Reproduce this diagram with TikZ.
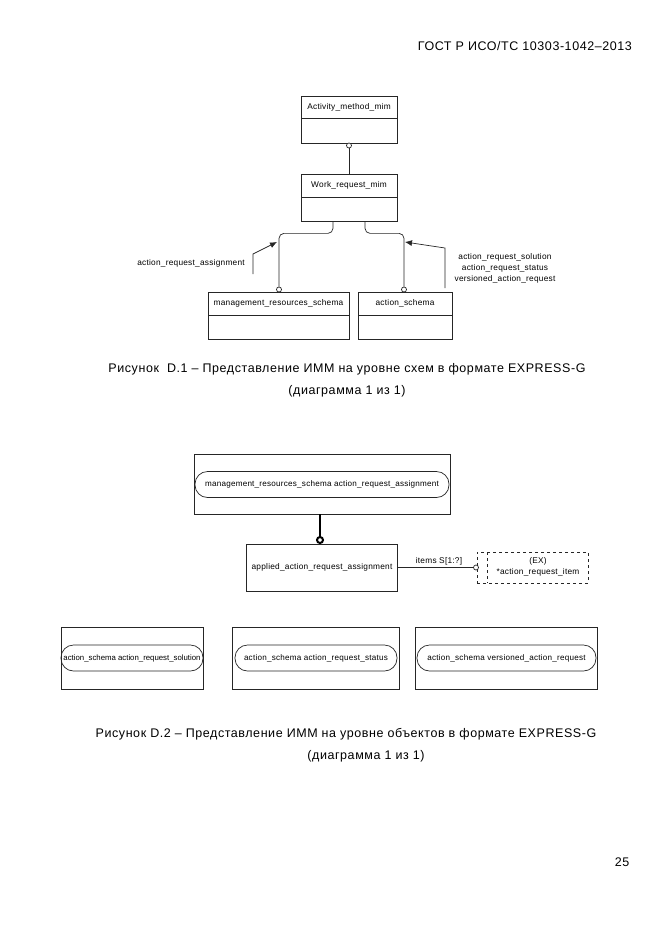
\documentclass[tikz,border=0pt]{standalone}
\usepackage{fontspec}
\setmainfont{Liberation Sans}
\newfontfamily\capfont[LetterSpace=4.5]{Liberation Sans}
\newfontfamily\dgfont[LetterSpace=3]{Liberation Sans}
\usetikzlibrary{arrows.meta}
\begin{document}
\begin{tikzpicture}[x=1pt,y=-1pt,
  ln/.style={line width=0.7pt, draw=black!85},
  box/.style={draw=black!85, line width=0.7pt, rectangle, inner sep=0pt},
  pill/.style={draw=black!85, line width=0.7pt, rectangle, rounded corners=12.5pt, inner xsep=0pt, inner ysep=0pt, minimum height=26pt, font=\dgfont\fontsize{8.1}{10}\selectfont},
  lbl/.style={inner sep=0pt, font=\dgfont\fontsize{8.3}{10}\selectfont},
  ocirc/.style={draw=black!85, line width=0.7pt, circle, fill=white, minimum size=5pt, inner sep=0pt},
  captxt/.style={inner sep=0pt, font=\capfont\fontsize{12.5}{15}\selectfont},
  arr/.style={ln, -{Latex[length=7pt,width=6pt]}}
]
\useasboundingbox (0,0) rectangle (661,935);

% header and page number
\node[captxt, anchor=east] (hdr) at (632,46) {ГОСТ Р ИСО/ТС 10303-1042–2013};
\node[captxt] (pg) at (622,862) {25};

% ---------- Diagram D.1 ----------
\node[box, minimum width=96pt, minimum height=47pt] (am) at (349,119.5) {};
\node[lbl] (amt) at (349,107) {Activity\_method\_mim};
\draw[ln] (301,118) -- (397,118);

\node[box, minimum width=96pt, minimum height=47pt] (wr) at (349,197.5) {};
\node[lbl] (wrt) at (349,185.5) {Work\_request\_mim};
\draw[ln] (301,197.5) -- (397,197.5);

\node[ocirc] (c1) at (349,145.5) {};
\draw[ln] (c1) -- (wr.north);

\node[box, minimum width=141pt, minimum height=47pt] (mrs) at (278.5,315.5) {};
\node[lbl] (mrst) at (278.5,303.5) {management\_resources\_schema};
\draw[ln] (208,315.5) -- (349,315.5);

\node[box, minimum width=94pt, minimum height=47pt] (as) at (405,315.5) {};
\node[lbl] (ast) at (405,303.5) {action\_schema};
\draw[ln] (358,315.5) -- (452,315.5);

\node[ocirc] (c2) at (279,289.5) {};
\node[ocirc] (c3) at (404,289.5) {};
\draw[ln] (c2) -- (mrs.north -| c2);
\draw[ln] (c3) -- (as.north -| c3);

\draw[ln, rounded corners=5pt] ([xshift=-16pt]wr.south) -- ++(0,12) -| (c2.north);
\draw[ln, rounded corners=5pt] ([xshift=16pt]wr.south) -- ++(0,12) -| (c3.north);

\coordinate (a1s) at (253,274);
\coordinate (a1e) at (277,242);
\draw[arr] (a1s) -- (253,254) -- (a1e);
\node[lbl] (a1l) at (191,263.5) {action\_request\_assignment};

\coordinate (a2s) at (445,288);
\coordinate (a2e) at (405,242);
\draw[arr] (a2s) -- (445,248) -- (a2e);
\node[lbl] (a2l1) at (505,257) {action\_request\_solution};
\node[lbl] (a2l2) at (505,268) {action\_request\_status};
\node[lbl] (a2l3) at (505,279) {versioned\_action\_request};

\node[captxt] (cap1) at (347,369) {Рисунок\ \ D.1 – Представление ИММ на уровне схем в формате EXPRESS-G};
\node[captxt] (cap1b) at (347,391) {(диаграмма 1 из 1)};

% ---------- Diagram D.2 ----------
\node[box, minimum width=256pt, minimum height=60pt] (o1) at (322,484) {};
\node[pill, minimum width=254pt] (p1) at (322,484.5) {management\_resources\_schema action\_request\_assignment};

\node[box, minimum width=151pt, minimum height=47pt] (aa) at (321.5,567.5) {};
\node[lbl] (aat) at (322,567) {applied\_action\_request\_assignment};

\node[draw=black, line width=2pt, circle, fill=white, minimum size=6pt, inner sep=0pt] (c5) at (320,540) {};
\draw[black, line width=2.4pt] (o1.south -| c5) -- (c5.north);

\node[ocirc] (c6) at (476,567.5) {};
\draw[ln] (aa.east) -- (c6.west);
\node[lbl] (itl) at (439,561) {items S[1:?]};

\node[box, dashed, minimum width=111pt, minimum height=31pt] (ex) at (532.5,567.5) {};
\draw[ln, dashed] (487,552) -- (487,583);
\node[lbl] (ext1) at (538,561) {(EX)};
\node[lbl] (ext2) at (538,572) {*action\_request\_item};

\node[box, minimum width=142pt, minimum height=62pt] (b1) at (132,658) {};
\node[pill, minimum width=142pt, font=\fontsize{7.8}{10}\selectfont] (q1) at (132,658) {action\_schema action\_request\_solution};
\node[box, minimum width=167pt, minimum height=62pt] (b2) at (315.5,658) {};
\node[pill, minimum width=162pt] (q2) at (316,658) {action\_schema action\_request\_status};
\node[box, minimum width=182pt, minimum height=62pt] (b3) at (506,658) {};
\node[pill, minimum width=179pt] (q3) at (506.5,658) {action\_schema versioned\_action\_request};

\node[captxt] (cap2) at (346,734) {Рисунок D.2 – Представление ИММ на уровне объектов в формате EXPRESS-G};
\node[captxt] (cap2b) at (366,756) {(диаграмма 1 из 1)};
\end{tikzpicture}
\end{document}
